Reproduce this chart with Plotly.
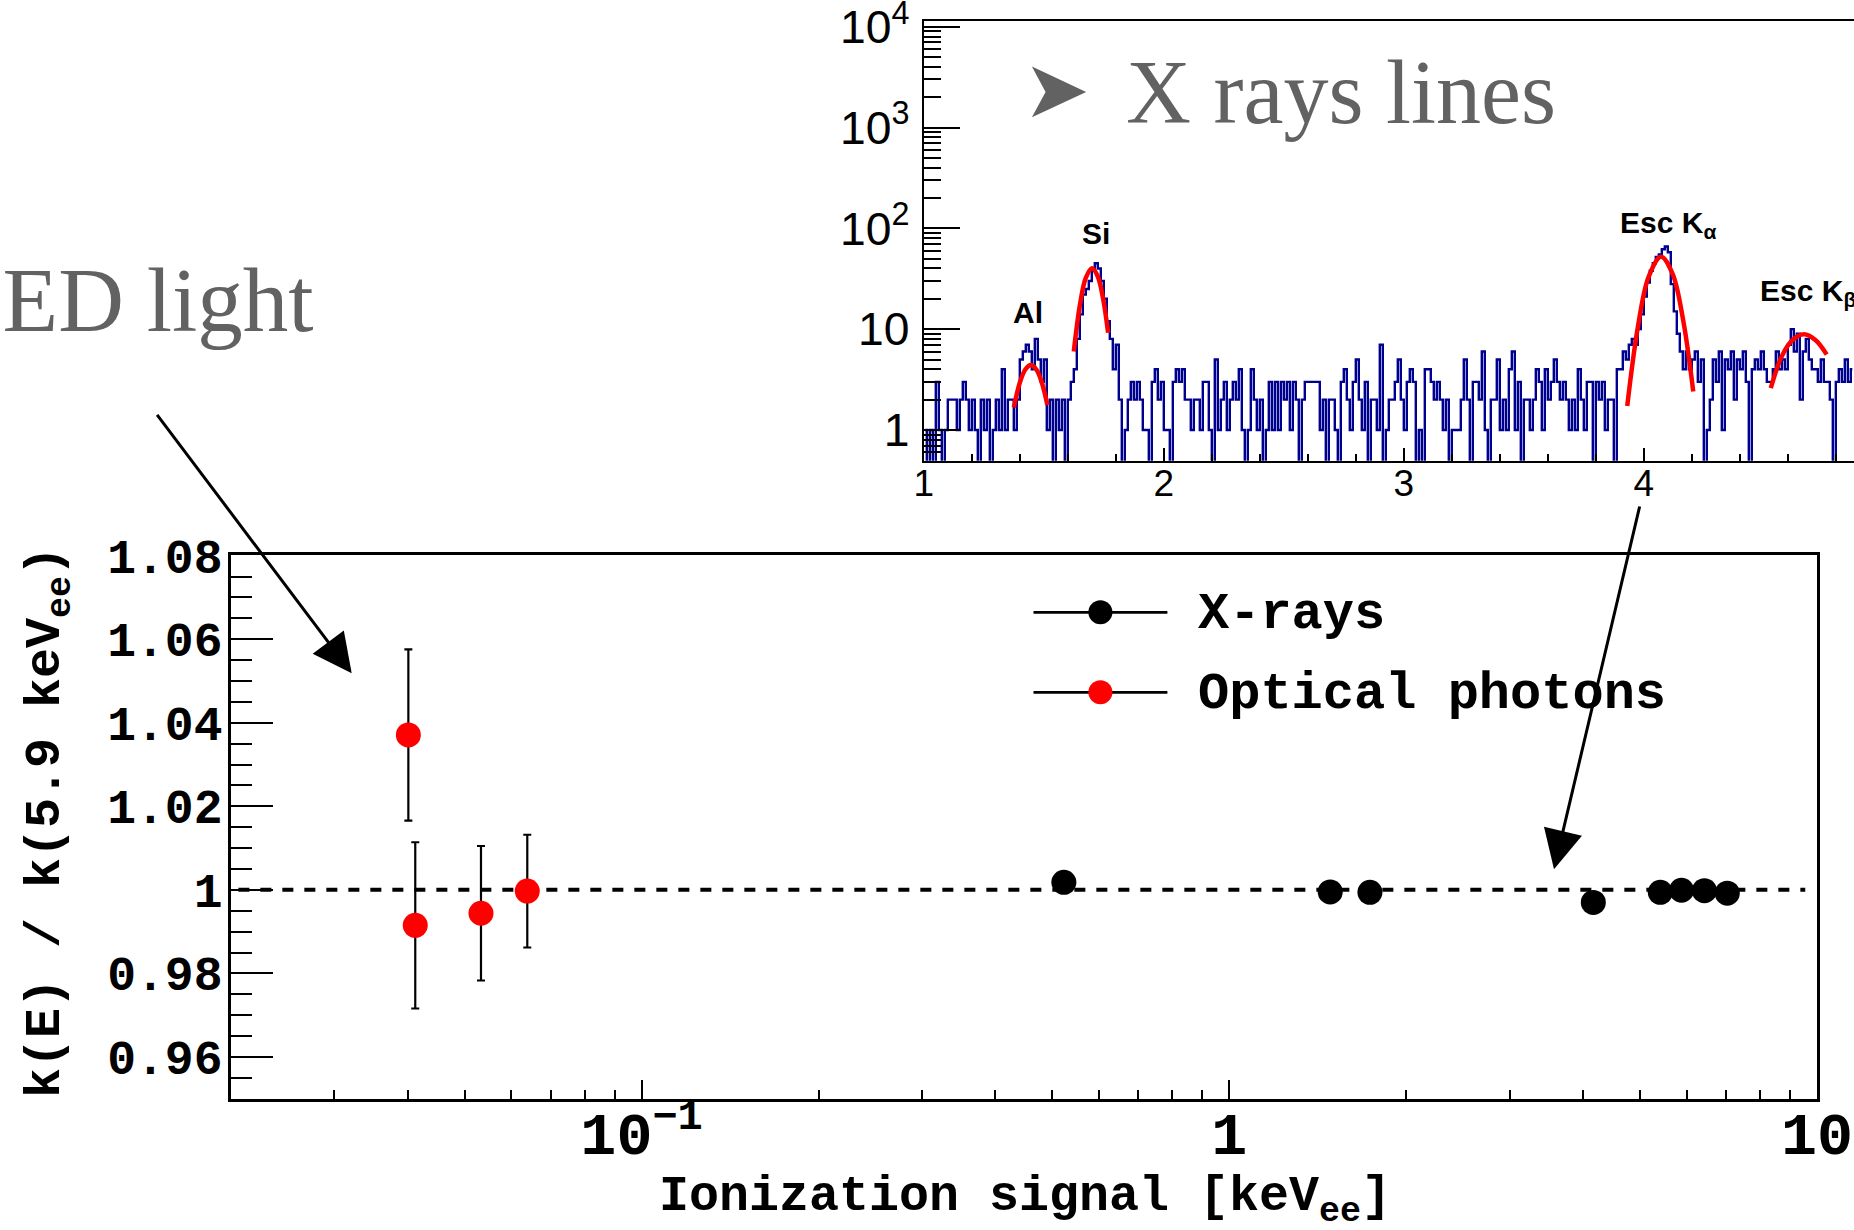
import plotly.graph_objects as go

W, H = 1854, 1230

# ---------------- main panel data ----------------
xray_energy = [0.523, 1.485, 1.735, 4.163, 5.412, 5.881, 6.433, 7.036]
xray_ratio = [1.0018, 0.9995, 0.9994, 0.9970, 0.9994, 0.9999, 0.9998, 0.9992]

optical_energy = [0.0401, 0.0412, 0.0533, 0.0639]
optical_ratio = [1.0371, 0.9915, 0.9944, 0.9997]
optical_err = [0.0205, 0.0199, 0.0161, 0.0135]

reference_level = 1.0
reference_span = [0.0206, 9.55]

series_names = ["X-rays", "Optical photons"]

# ---------------- inset spectrum data ----------------
spectrum_start = 1.0
spectrum_bin_width = 0.0125
spectrum_counts = [
    1, 0, 1, 0, 3, 1, 0, 1, 2, 2, 2, 1, 2, 3, 2, 1, 2, 1, 0, 2,
    1, 2, 0, 1, 2, 1, 4, 1, 2, 2, 1, 2, 5, 6, 7, 6, 4, 8, 5, 3,
    5, 1, 2, 0, 2, 1, 2, 0, 2, 3, 4, 8, 14, 22, 25, 30, 38, 45, 40, 30,
    20, 12, 8, 4, 7, 2, 0, 1, 2, 3, 2, 3, 2, 1, 1, 0, 3, 4, 2, 3,
    1, 1, 0, 3, 4, 3, 4, 2, 2, 1, 2, 2, 1, 3, 3, 1, 0, 5, 1, 2,
    3, 1, 2, 3, 2, 4, 1, 0, 1, 4, 2, 1, 2, 0, 1, 3, 1, 3, 1, 3,
    2, 3, 1, 3, 2, 0, 2, 3, 3, 3, 3, 3, 1, 2, 0, 2, 2, 1, 0, 3,
    4, 2, 1, 3, 5, 2, 1, 3, 0, 2, 2, 1, 7, 0, 1, 2, 2, 3, 5, 2,
    1, 3, 4, 3, 0, 1, 0, 4, 4, 3, 2, 3, 2, 1, 2, 0, 1, 1, 1, 2,
    5, 2, 0, 3, 3, 2, 6, 1, 0, 2, 2, 5, 1, 2, 1, 4, 6, 1, 3, 0,
    2, 2, 1, 2, 4, 3, 1, 4, 2, 3, 5, 3, 2, 3, 2, 1, 2, 1, 4, 2,
    1, 3, 3, 0, 3, 2, 3, 1, 2, 2, 0, 4, 4, 6, 5, 7, 8, 7, 10, 14,
    21, 29, 38, 45, 52, 55, 62, 66, 58, 28, 15, 9, 6, 4, 6, 4, 5, 6, 3, 5,
    0, 1, 2, 5, 3, 6, 1, 5, 4, 6, 2, 5, 4, 6, 3, 0, 4, 5, 4, 6,
    4, 3, 3, 4, 6, 4, 5, 4, 7, 10, 6, 9, 2, 6, 8, 5, 4, 4, 3, 5,
    3, 3, 2, 0, 3, 4, 3, 5, 3, 4,
]
zero_floor = 0.3  # empty bins drawn below the log-axis floor, like ROOT

fit_al_x = [1.375, 1.400, 1.423, 1.446, 1.469, 1.492, 1.515]
fit_al_y = [1.67, 2.94, 3.98, 4.41, 3.98, 2.94, 1.77]
fit_si_x = [1.625, 1.650, 1.675, 1.701, 1.725, 1.747, 1.768]
fit_si_y = [6.0, 17.1, 32.2, 40.2, 33.3, 20.1, 9.2]
fit_ka_x = [3.931, 3.975, 4.020, 4.072, 4.120, 4.165, 4.206]
fit_ka_y = [1.73, 10.4, 33.0, 52.4, 35.3, 11.9, 2.41]
fit_kb_x = [4.529, 4.575, 4.620, 4.6675, 4.715, 4.762]
fit_kb_y = [2.6, 5.4, 7.8, 8.9, 7.8, 5.6]

peak_labels = ["Al", "Si", "Esc K<sub>α</sub>", "Esc K<sub>β</sub>"]

# ---------------- helpers (pixel -> paper) ----------------
def fx(p):
    return p / W


def fy(p):
    return 1 - p / H


MONO = "Liberation Mono"
SANS = "Liberation Sans"
SERIF = "Liberation Serif"
GREY = "#626262"
NAVY = "#000090"

fig = go.Figure()

# reference dashed line
fig.add_trace(go.Scatter(
    x=reference_span, y=[reference_level, reference_level], mode="lines",
    line=dict(color="black", width=4, dash="11px,11px"),
    xaxis="x", yaxis="y", showlegend=False, hoverinfo="skip"))

fig.add_trace(go.Scatter(
    x=optical_energy, y=optical_ratio, mode="markers", name=series_names[1],
    marker=dict(color="red", size=25, line=dict(width=0)),
    error_y=dict(type="data", array=optical_err, color="black", thickness=2.2, width=4),
    xaxis="x", yaxis="y", showlegend=False))

fig.add_trace(go.Scatter(
    x=xray_energy, y=xray_ratio, mode="markers", name=series_names[0],
    marker=dict(color="black", size=25, line=dict(width=0)),
    xaxis="x", yaxis="y", showlegend=False))

# inset histogram
centers = [spectrum_start + (i + 0.5) * spectrum_bin_width for i in range(len(spectrum_counts))]
shown = [c if c > 0 else zero_floor for c in spectrum_counts]
fig.add_trace(go.Scatter(
    x=centers, y=shown, mode="lines", line=dict(color=NAVY, width=2.4, shape="hvh"),
    xaxis="x2", yaxis="y2", showlegend=False, hoverinfo="skip"))

for fxs, fys in [(fit_al_x, fit_al_y), (fit_si_x, fit_si_y), (fit_ka_x, fit_ka_y), (fit_kb_x, fit_kb_y)]:
    fig.add_trace(go.Scatter(
        x=fxs, y=fys, mode="lines", line=dict(color="red", width=4.5, shape="spline"),
        xaxis="x2", yaxis="y2", showlegend=False, hoverinfo="skip"))

tick_common = dict(tickcolor="black", tickwidth=2, showgrid=False, zeroline=False,
                   showline=True, linecolor="black", automargin=False,
                   ticklabeloverflow="allow")

fig.update_layout(
    width=W, height=H, template="none",
    margin=dict(l=0, r=0, t=0, b=0, pad=0),
    paper_bgcolor="white", plot_bgcolor="rgba(0,0,0,0)",
    showlegend=False,
    xaxis=dict(
        domain=[fx(230.8), fx(1817)], type="log", range=[-1.69897, 1.0], anchor="y",
        linewidth=2.5, mirror=True, ticks="inside", ticklen=19, dtick=1,
        exponentformat="power", ticklabelstandoff=-17,
        tickfont=dict(family=MONO, size=48, color="black", weight="bold"),
        minor=dict(ticks="inside", ticklen=9, tickwidth=2, tickcolor="black", dtick="D1", showgrid=False),
        **tick_common),
    yaxis=dict(
        domain=[fy(1098.7), fy(555.3)], range=[0.95, 1.0801], anchor="x",
        linewidth=2.5, mirror=True, ticks="inside", ticklen=42, tick0=0.96, dtick=0.02,
        ticklabelstandoff=-4,
        tickfont=dict(family=MONO, size=48, color="black", weight="bold"),
        minor=dict(ticks="inside", ticklen=21, tickwidth=2, tickcolor="black", tick0=0.95, dtick=0.005, showgrid=False),
        **tick_common),
    xaxis2=dict(
        domain=[fx(923.8), 1.0], range=[1.0, 4.8758], anchor="y2",
        linewidth=2, mirror=True, ticks="inside", ticklen=13, tick0=1, dtick=1,
        ticklabelstandoff=-11,
        tickfont=dict(family=SANS, size=37, color="black"),
        minor=dict(ticks="inside", ticklen=7, tickwidth=1.5, tickcolor="black", tick0=1, dtick=0.2, showgrid=False),
        **tick_common),
    yaxis2=dict(
        domain=[fy(460.7), fy(20.7)], type="log", range=[-0.305, 4.06], anchor="x2",
        linewidth=2, mirror=False, ticks="inside", ticklen=36, dtick=1,
        exponentformat="power", ticklabelstandoff=5,
        tickfont=dict(family=SANS, size=37, color="black"),
        minor=dict(ticks="inside", ticklen=17, tickwidth=2, tickcolor="black", dtick="D1", showgrid=False),
        **tick_common),
)

ann = []
# axis titles
ann.append(dict(text="k(E) / k(5.9 keV<sub>ee</sub>)", x=fx(49), y=fy(822), xref="paper", yref="paper",
                textangle=-90, showarrow=False, xanchor="center", yanchor="middle",
                font=dict(family=MONO, size=50, color="black", weight="bold")))
ann.append(dict(text="Ionization signal [keV<sub>ee</sub>]", x=fx(1025), y=fy(1200), xref="paper", yref="paper",
                showarrow=False, xanchor="center", yanchor="middle",
                font=dict(family=MONO, size=50, color="black", weight="bold")))
# legend texts
for name, yy in zip(series_names, [614, 694]):
    ann.append(dict(text=name, x=fx(1196), y=fy(yy), xref="paper", yref="paper", showarrow=False,
                    xanchor="left", yanchor="middle",
                    font=dict(family=MONO, size=52, color="black", weight="bold")))
# decorative slide texts
ann.append(dict(text="LED light", x=fx(316), y=fy(300), xref="paper", yref="paper", showarrow=False,
                xanchor="right", yanchor="middle", font=dict(family=SERIF, size=91, color=GREY)))
ann.append(dict(text="➤", x=fx(1056), y=fy(90), xref="paper", yref="paper", showarrow=False,
                xanchor="center", yanchor="middle", font=dict(family="DejaVu Sans", size=80, color=GREY)))
ann.append(dict(text="X rays lines", x=fx(1124), y=fy(92), xref="paper", yref="paper", showarrow=False,
                xanchor="left", yanchor="middle", font=dict(family=SERIF, size=90, color=GREY)))
# peak labels
peak_pos = [(1027.5, 312, "center"), (1096, 234, "center"), (1618, 224, "left"), (1758, 292, "left")]
for lab, (px, py, anc) in zip(peak_labels, peak_pos):
    ann.append(dict(text=lab, x=fx(px), y=fy(py), xref="paper", yref="paper", showarrow=False,
                    xanchor=anc, yanchor="middle",
                    font=dict(family=SANS, size=30, color="black", weight="bold")))
# arrows
ann.append(dict(text="", x=fx(351.7), y=fy(673.3), xref="paper", yref="paper", showarrow=True,
                ax=156 - 351.7, ay=413.3 - 673.3, arrowhead=2, arrowsize=2.6, arrowwidth=3,
                arrowcolor="black", standoff=0, startstandoff=0))
ann.append(dict(text="", x=fx(1554), y=fy(869.3), xref="paper", yref="paper", showarrow=True,
                ax=1640 - 1554, ay=505 - 869.3, arrowhead=2, arrowsize=2.6, arrowwidth=3,
                arrowcolor="black", standoff=0, startstandoff=0))
fig.update_layout(annotations=ann)

# hand-drawn legend (ROOT "LP" style: line through marker)
shapes = []
r = 12
for yy, col in [(612.3, "black"), (692.3, "red")]:
    shapes.append(dict(type="line", xref="paper", yref="paper", x0=fx(1033.5), x1=fx(1167.4),
                       y0=fy(yy), y1=fy(yy), line=dict(color="black", width=2.7)))
    shapes.append(dict(type="circle", xref="paper", yref="paper", x0=fx(1100.4 - r), x1=fx(1100.4 + r),
                       y0=fy(yy + r), y1=fy(yy - r), fillcolor=col, line=dict(width=0)))
fig.update_layout(shapes=shapes)

fig.write_html(
    "out.html",
    config={"displayModeBar": False},
    post_script="document.documentElement.style.margin='0';document.body.style.margin='0';"
                "document.body.style.overflow='hidden';",
)
